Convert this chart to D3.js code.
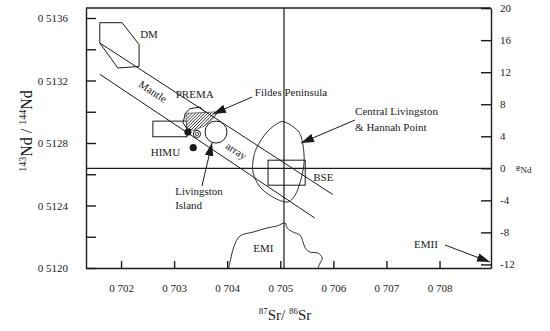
<!DOCTYPE html>
<html>
<head>
<meta charset="utf-8">
<script src="https://cdn.jsdelivr.net/npm/d3@7"></script>
<style>
  body { margin: 0; background: #fff; }
  svg { display: block; font-family: "Liberation Serif", "DejaVu Serif", serif; }
</style>
</head>
<body>
<svg></svg>
<script>
var svg_width = 550
var svg_height = 331

// DATA (87Sr/86Sr, 143Nd/144Nd)
var ndTicks = [0.5120, 0.5122, 0.5124, 0.5126, 0.5128, 0.5130, 0.5132, 0.5134, 0.5136];
var ndLabels = [0.5120, 0.5124, 0.5128, 0.5132, 0.5136];
var srTicks = [0.702, 0.703, 0.704, 0.705, 0.706, 0.707, 0.708];
var epsTicks = [-12, -8, -4, 0, 4, 8, 12, 16, 20];

var chur = 0.512638;   // eNd = 0
var bseSr = 0.70507;

var dmField = [[0.70160, 0.51357], [0.70202, 0.51357], [0.70234, 0.51343],
               [0.70234, 0.51329], [0.70194, 0.51328], [0.70160, 0.51344]];
var mantleUpper = [[0.70160, 0.51344], [0.70599, 0.51247]];
var mantleLower = [[0.70160, 0.51324], [0.70565, 0.51232]];
var himuBox = [[0.70260, 0.51294], [0.70324, 0.51284]];
var bseBox = [[0.70477, 0.51269], [0.70547, 0.51253]];
var premaField = [[0.70321, 0.51299], [0.70330, 0.51302], [0.70349, 0.51303], [0.70358, 0.51300],
                  [0.70354, 0.51292], [0.70326, 0.51288], [0.70317, 0.51293]];
var fildesField = [[0.70322, 0.51299], [0.70383, 0.51300], [0.70375, 0.51296],
                   [0.70358, 0.51291], [0.70336, 0.51288], [0.70324, 0.51290]];
var centralField = [[0.70509, 0.512934], [0.70532, 0.512883], [0.70541, 0.512819], [0.70545, 0.51271],
                    [0.70543, 0.512627], [0.70537, 0.512544], [0.70528, 0.512467], [0.70513, 0.512422],
                    [0.70486, 0.512454], [0.70462, 0.512518], [0.70449, 0.512608], [0.70449, 0.512691],
                    [0.70456, 0.512774], [0.70475, 0.51287], [0.70496, 0.512928]];
var emiCurve = [[0.70403, 0.51200], [0.70407, 0.512064], [0.70413, 0.512141], [0.70424, 0.512205],
                [0.70449, 0.51223], [0.70475, 0.512256], [0.70494, 0.512269], [0.70509, 0.512288],
                [0.70513, 0.512256], [0.70524, 0.51223], [0.70537, 0.512211], [0.70543, 0.512166],
                [0.70547, 0.512128], [0.70556, 0.512102], [0.70571, 0.512096], [0.70579, 0.512064],
                [0.70575, 0.512032], [0.70571, 0.51200]];
var blackDots = [[0.70326, 0.51287], [0.70336, 0.51277]];
var openDot = [0.70343, 0.512858];
var livingston = [0.70379, 0.51287];

function toEps(nd) { return (nd / chur - 1) * 1e4; }

// LAYOUT
var padLeft = 86, padRight = 491, padTop = 8, padBottom = 268;

var xScale = d3.scaleLinear().domain([0.70134, 0.70897]).range([padLeft, padRight]);
var yScale = d3.scaleLinear().domain([0.5120, 0.513664]).range([padBottom, padTop]);
var eScale = d3.scaleLinear().domain([toEps(0.5120), toEps(0.513664)]).range([padBottom, padTop]);

var svg = d3.select("svg")
    .attr("width", svg_width)
    .attr("height", svg_height);

var ink = "#1a1a1a";

var defs = svg.append("defs");
var pat = defs.append("pattern")
    .attr("id", "hatch")
    .attr("patternUnits", "userSpaceOnUse")
    .attr("width", 2.2).attr("height", 2.2)
    .attr("patternTransform", "rotate(45)");
pat.append("rect").attr("width", 2.2).attr("height", 2.2).attr("fill", "#fff");
pat.append("line").attr("x1", 0).attr("y1", 0).attr("x2", 0).attr("y2", 2.2)
    .attr("stroke", "#222").attr("stroke-width", 1.3);

defs.append("marker")
    .attr("id", "head")
    .attr("markerUnits", "userSpaceOnUse")
    .attr("viewBox", "0 0 12 8")
    .attr("refX", 12).attr("refY", 4)
    .attr("markerWidth", 13).attr("markerHeight", 9)
    .attr("orient", "auto")
  .append("path")
    .attr("d", "M0,0L12,4L0,8Z")
    .attr("fill", ink);

var line = d3.line()
    .x(function(d) { return xScale(d[0]); })
    .y(function(d) { return yScale(d[1]); });

// REFERENCE LINES
svg.append("line")
    .attr("x1", xScale(bseSr)).attr("x2", xScale(bseSr))
    .attr("y1", padTop).attr("y2", padBottom)
    .attr("stroke", ink).attr("stroke-width", 1.2);
svg.append("line")
    .attr("x1", padLeft).attr("x2", padRight)
    .attr("y1", yScale(chur)).attr("y2", yScale(chur))
    .attr("stroke", ink).attr("stroke-width", 1.2);

// FIELDS
svg.append("path")
    .attr("d", line(dmField) + "Z")
    .attr("fill", "none").attr("stroke", ink).attr("stroke-width", 1);

svg.append("rect")
    .attr("x", xScale(himuBox[0][0]))
    .attr("y", yScale(himuBox[0][1]))
    .attr("width", xScale(himuBox[1][0]) - xScale(himuBox[0][0]))
    .attr("height", yScale(himuBox[1][1]) - yScale(himuBox[0][1]))
    .attr("fill", "none").attr("stroke", ink).attr("stroke-width", 1);

svg.append("rect")
    .attr("x", xScale(bseBox[0][0]))
    .attr("y", yScale(bseBox[0][1]))
    .attr("width", xScale(bseBox[1][0]) - xScale(bseBox[0][0]))
    .attr("height", yScale(bseBox[1][1]) - yScale(bseBox[0][1]))
    .attr("fill", "none").attr("stroke", ink).attr("stroke-width", 1);

svg.append("path")
    .attr("d", line(premaField) + "Z")
    .attr("fill", "none").attr("stroke", ink).attr("stroke-width", 1);

svg.append("path")
    .attr("d", line(fildesField) + "Z")
    .attr("fill", "url(#hatch)").attr("stroke", "#333").attr("stroke-width", 0.6);

svg.append("path")
    .attr("d", line.curve(d3.curveCardinalClosed)(centralField))
    .attr("fill", "none").attr("stroke", ink).attr("stroke-width", 0.9);

svg.append("path")
    .attr("d", line.curve(d3.curveCatmullRom)(emiCurve))
    .attr("fill", "none").attr("stroke", ink).attr("stroke-width", 0.9);
line.curve(d3.curveLinear);

// MANTLE ARRAY
[mantleUpper, mantleLower].forEach(function(seg) {
    svg.append("path")
        .attr("d", line(seg))
        .attr("fill", "none").attr("stroke", ink).attr("stroke-width", 1);
});

// POINTS
svg.selectAll(".dot")
    .data(blackDots)
    .enter()
    .append("circle")
      .attr("class", "dot")
      .attr("cx", function(d) { return xScale(d[0]); })
      .attr("cy", function(d) { return yScale(d[1]); })
      .attr("r", 3.6)
      .attr("fill", ink);

svg.append("circle")
    .attr("cx", xScale(livingston[0])).attr("cy", yScale(livingston[1]))
    .attr("r", 11)
    .attr("fill", "#fff").attr("stroke", ink).attr("stroke-width", 1);

svg.append("circle")
    .attr("cx", xScale(openDot[0])).attr("cy", yScale(openDot[1]))
    .attr("r", 3.6)
    .attr("fill", "#fff").attr("stroke", ink).attr("stroke-width", 1);
svg.append("circle")
    .attr("cx", xScale(openDot[0])).attr("cy", yScale(openDot[1]))
    .attr("r", 1.6)
    .attr("fill", "none").attr("stroke", ink).attr("stroke-width", 0.8);

// AXES
var xAxis = d3.axisBottom(xScale)
    .tickValues(srTicks)
    .tickSize(-7).tickSizeOuter(0).tickPadding(16)
    .tickFormat(function(d) { return "0 " + d.toFixed(3).slice(2); });
var yAxis = d3.axisLeft(yScale)
    .tickValues(ndTicks)
    .tickSize(-10).tickSizeOuter(0).tickPadding(18)
    .tickFormat(function(d) {
        return ndLabels.some(function(v) { return Math.abs(v - d) < 1e-9; })
            ? "0 " + d.toFixed(4).slice(2) : "";
    });
var eAxis = d3.axisRight(eScale)
    .tickValues(epsTicks)
    .tickSize(-10).tickSizeOuter(0).tickPadding(9)
    .tickFormat(function(d) { return String(d); });

function styleAxis(g) {
    g.selectAll("path, line").attr("stroke", ink).attr("stroke-width", 1.4);
    g.selectAll("text").attr("fill", ink)
        .attr("font-family", "Liberation Serif").attr("font-size", 11);
}

svg.append("g")
    .attr("transform", "translate(0," + padBottom + ")")
    .call(xAxis).call(styleAxis);
svg.append("g")
    .attr("transform", "translate(" + padLeft + ",0)")
    .call(yAxis).call(styleAxis);
svg.append("g")
    .attr("transform", "translate(" + padRight + ",0)")
    .call(eAxis).call(styleAxis);
svg.append("line")
    .attr("x1", padLeft).attr("x2", padRight)
    .attr("y1", padTop).attr("y2", padTop)
    .attr("stroke", ink).attr("stroke-width", 1.4);

// ANNOTATIONS
var notes = [
    {t: "DM", sr: 0.70236, nd: 0.51347},
    {t: "PREMA", sr: 0.70303, nd: 0.51309},
    {t: "Fildes Peninsula", sr: 0.70452, nd: 0.51310},
    {t: "HIMU", sr: 0.70256, nd: 0.51272},
    {t: "Livingston", sr: 0.70302, nd: 0.51247},
    {t: "Island", sr: 0.70302, nd: 0.51238},
    {t: "Central Livingston", sr: 0.70641, nd: 0.51298},
    {t: "& Hannah Point", sr: 0.70641, nd: 0.51288},
    {t: "BSE", sr: 0.70562, nd: 0.51256},
    {t: "EMI", sr: 0.70449, nd: 0.51210},
    {t: "EMII", sr: 0.70752, nd: 0.51213}
];
svg.selectAll(".note")
    .data(notes)
    .enter()
    .append("text")
      .attr("class", "note")
      .attr("x", function(d) { return xScale(d.sr); })
      .attr("y", function(d) { return yScale(d.nd); })
      .attr("font-size", 11)
      .attr("fill", ink)
      .text(function(d) { return d.t; });

var tilt = Math.atan2(yScale(mantleUpper[1][1]) - yScale(mantleUpper[0][1]),
                      xScale(mantleUpper[1][0]) - xScale(mantleUpper[0][0])) * 180 / Math.PI;
[{t: "Mantle", sr: 0.70260, nd: 0.51313}, {t: "array", sr: 0.70417, nd: 0.51275}].forEach(function(d) {
    svg.append("text")
        .attr("transform", "translate(" + xScale(d.sr) + "," + yScale(d.nd) + ") rotate(" + tilt + ")")
        .attr("text-anchor", "middle")
        .attr("dy", "0.35em")
        .attr("font-size", 11)
        .attr("fill", ink)
        .text(d.t);
});

var arrows = [
    [[0.704467, 0.513094], [0.703733, 0.512986]],
    [[0.703525, 0.512525], [0.703714, 0.51280]],
    [[0.706408, 0.512947], [0.705391, 0.51280]],
    [[0.708104, 0.512147], [0.708951, 0.512038]]
];
svg.selectAll(".arrow")
    .data(arrows)
    .enter()
    .append("path")
      .attr("class", "arrow")
      .attr("d", function(d) { return line(d); })
      .attr("fill", "none")
      .attr("stroke", ink)
      .attr("stroke-width", 1)
      .attr("marker-end", "url(#head)");

// AXIS LABELS
var yl = svg.append("text")
    .attr("transform", "translate(32," + 131 + ") rotate(-90)")
    .attr("text-anchor", "middle")
    .attr("font-size", 16)
    .attr("fill", ink);
yl.append("tspan").attr("font-size", 10).attr("dy", -6).text("143");
yl.append("tspan").attr("dy", 6).text("Nd / ");
yl.append("tspan").attr("font-size", 10).attr("dy", -6).text("144");
yl.append("tspan").attr("dy", 6).text("Nd");

var xl = svg.append("text")
    .attr("x", 285).attr("y", 320)
    .attr("text-anchor", "middle")
    .attr("font-size", 15)
    .attr("fill", ink);
xl.append("tspan").attr("font-size", 9).attr("dy", -6).text("87");
xl.append("tspan").attr("dy", 6).text("Sr/ ");
xl.append("tspan").attr("font-size", 9).attr("dy", -6).text("86");
xl.append("tspan").attr("dy", 6).text("Sr");

var el = svg.append("text")
    .attr("x", 516).attr("y", 171)
    .attr("font-size", 10)
    .attr("fill", ink);
el.append("tspan").text("e");
el.append("tspan").attr("font-size", 9).attr("dy", 2).text("Nd");
</script>
</body>
</html>
